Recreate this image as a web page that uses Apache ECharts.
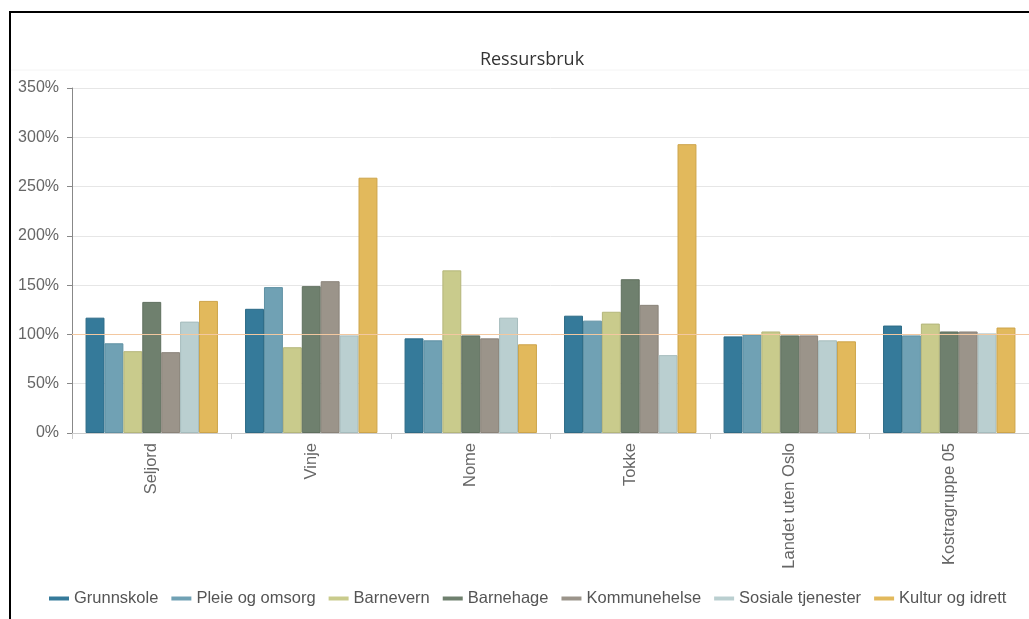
<!DOCTYPE html>
<html>
<head>
<meta charset="utf-8">
<script src="https://cdn.jsdelivr.net/npm/echarts@6/dist/echarts.min.js"></script>
<style>
html,body{margin:0;padding:0;background:#fff;}
#wrap{position:relative;width:1029px;height:619px;overflow:hidden;}
#chart{position:absolute;left:0;top:0;width:1029px;height:619px;}
#frame{position:absolute;left:9px;top:11px;width:1040px;height:640px;border:2px solid #000;pointer-events:none;box-sizing:border-box;}
</style>
</head>
<body>
<div id="wrap"><div id="chart"></div><div id="frame"></div></div>
<script>
const categories = ['Seljord', 'Vinje', 'Nome', 'Tokke', 'Landet uten Oslo', 'Kostragruppe 05'];
const seriesNames = ['Grunnskole', 'Pleie og omsorg', 'Barnevern', 'Barnehage', 'Kommunehelse', 'Sosiale tjenester', 'Kultur og idrett'];
const grunnskole = [117, 126, 96, 119, 98, 109];
const pleieOgOmsorg = [91, 148, 94, 114, 100, 99];
const barnevern = [83, 87, 165, 123, 103, 111];
const barnehage = [133, 149, 99, 156, 99, 103];
const kommunehelse = [82, 154, 96, 130, 99, 103];
const sosialeTjenester = [113, 99, 117, 79, 94, 101];
const kulturOgIdrett = [134, 259, 90, 293, 93, 107];
const yTicks = [0, 50, 100, 150, 200, 250, 300, 350];
const referenceLine = 100;

const seriesValues = [grunnskole, pleieOgOmsorg, barnevern, barnehage, kommunehelse, sosialeTjenester, kulturOgIdrett];
const fills = ['#357a9a', '#70a1b4', '#c9cb8c', '#6f806e', '#9b948a', '#bacfd0', '#e2b95c'];
const borders = ['#2c6a86', '#5f90a3', '#b4b67a', '#5f6f5e', '#8a8379', '#a6bcbd', '#cda44a'];

const chart = echarts.init(document.getElementById('chart'), null, {renderer: 'canvas'});
const series = seriesNames.map((name, i) => ({
  name: name,
  type: 'bar',
  data: seriesValues[i],
  barGap: '0%',
  barCategoryGap: '17%',
  z: 3,
  itemStyle: {color: fills[i], borderColor: borders[i], borderWidth: 1},
  emphasis: {disabled: true}
}));
series.push({
  name: 'ref',
  type: 'line',
  data: [],
  z: 1,
  silent: true,
  markLine: {
    silent: true,
    symbol: 'none',
    label: {show: false},
    lineStyle: {color: '#f3c8a0', type: 'solid', width: 1},
    data: [{yAxis: referenceLine}]
  }
});

chart.setOption({
  animation: false,
  backgroundColor: '#fff',
  title: {
    text: 'Ressursbruk',
    left: 527,
    textAlign: 'center',
    top: 46,
    textStyle: {fontFamily: 'Open Sans', fontSize: 18, fontWeight: 'normal', color: '#333'}
  },
  graphic: [{
    type: 'line', shape: {x1: 10, y1: 70, x2: 1029, y2: 70},
    style: {stroke: '#f4f4f4', lineWidth: 1}, z: -1
  }],
  legend: {
    data: seriesNames,
    left: 44,
    top: 585,
    icon: 'rect',
    itemWidth: 20,
    itemHeight: 4,
    itemGap: 13,
    itemStyle: {borderWidth: 0},
    textStyle: {fontFamily: 'Liberation Sans', fontSize: 16.5, color: '#555'}
  },
  grid: {left: 72, top: 88, width: 963, bottom: 186, containLabel: false},
  xAxis: {
    type: 'category',
    data: categories,
    axisLine: {lineStyle: {color: '#ccc'}},
    axisTick: {show: true, length: 6, lineStyle: {color: '#ccc'}},
    axisLabel: {rotate: 90, margin: 10, fontFamily: 'Liberation Sans', fontSize: 16.5, color: '#666'}
  },
  yAxis: {
    type: 'value',
    min: yTicks[0],
    max: yTicks[yTicks.length - 1],
    interval: yTicks[1] - yTicks[0],
    axisLine: {show: true, lineStyle: {color: '#888'}},
    axisTick: {show: true, length: 5, lineStyle: {color: '#888'}},
    axisLabel: {formatter: '{value}%', margin: 13, fontFamily: 'Liberation Sans', fontSize: 16, color: '#666'},
    splitLine: {lineStyle: {color: '#e6e6e6'}}
  },
  series: series
});
</script>
</body>
</html>
